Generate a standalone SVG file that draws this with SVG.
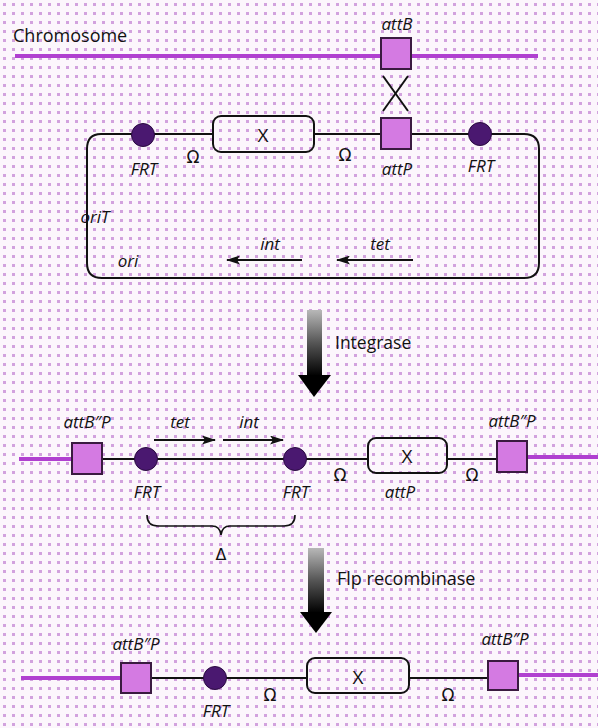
<svg xmlns="http://www.w3.org/2000/svg" width="598" height="728" viewBox="0 0 598 728">
<defs>
<pattern id="dots" width="9" height="9" patternUnits="userSpaceOnUse">
<rect x="3" y="3" width="3" height="3" fill="#d2a2de"/>
</pattern>
<linearGradient id="shaft" x1="0" y1="0" x2="0" y2="1">
<stop offset="0" stop-color="#b8b8b8"/>
<stop offset="0.5" stop-color="#555"/>
<stop offset="1" stop-color="#000"/>
</linearGradient>
<marker id="ah" markerWidth="14" markerHeight="9" refX="13" refY="4.5" orient="auto" markerUnits="userSpaceOnUse">
<path d="M0,0 L14,4.5 L0,9 L3,4.5 Z" fill="#111"/>
</marker>
<style>
.t{font-family:"Open Sans","Liberation Sans",sans-serif;fill:#111}
.lab{font-family:"Open Sans","Liberation Sans",sans-serif;font-style:italic;font-size:17px;fill:#111;text-anchor:middle}
.om{font-family:"DejaVu Sans","Liberation Sans",sans-serif;font-size:17px;fill:#111;text-anchor:middle}
.chr{stroke:#b040d0;stroke-width:4;fill:none}
.dna{stroke:#111;stroke-width:2;fill:none}
.att{fill:#d47ae2;stroke:#3a1a40;stroke-width:2}
.frt{fill:#4a1870;stroke:#2a0a40;stroke-width:1}
.xbox{fill:none;stroke:#111;stroke-width:2}
.gene{stroke:#111;stroke-width:1.8;fill:none;marker-end:url(#ah)}
</style>
</defs>
<rect width="598" height="728" fill="#fcf6fc"/>
<rect width="598" height="728" fill="url(#dots)"/>

<g id="connectors">
<line class="chr" x1="15" y1="56" x2="538" y2="56"/>
<line x1="383" y1="76" x2="408" y2="111" stroke="#111" stroke-width="2"/>
<line x1="408" y1="76" x2="383" y2="111" stroke="#111" stroke-width="2"/>
<path class="dna" d="M213,134 L101,134 Q87,134 87,149 L87,263 Q87,278 102,278 L524,278 Q539,278 539,263 L539,149 Q539,134 524,134 L411,134"/>
<line class="dna" x1="314" y1="134" x2="381" y2="134"/>
<line class="gene" x1="302" y1="260" x2="227" y2="260"/>
<line class="gene" x1="413" y1="260" x2="337" y2="260"/>
<line class="chr" x1="19" y1="459" x2="72" y2="459"/>
<line class="dna" x1="102" y1="459" x2="368" y2="459"/>
<line class="dna" x1="447" y1="459" x2="497" y2="459"/>
<line class="chr" x1="527" y1="457" x2="598" y2="457"/>
<line class="gene" x1="154" y1="440" x2="215" y2="440"/>
<line class="gene" x1="223" y1="440" x2="283" y2="440"/>
<path d="M147,515 Q147,526 158,526 L212,526 Q220,526 221,535 Q222,526 230,526 L284,526 Q295,526 295,515" fill="none" stroke="#111" stroke-width="1.6"/>
<line class="chr" x1="21" y1="678" x2="121" y2="678"/>
<line class="dna" x1="151" y1="678" x2="307" y2="678"/>
<line class="dna" x1="409" y1="678" x2="488" y2="678"/>
<line class="chr" x1="518" y1="675" x2="598" y2="675"/>
<rect x="307" y="310" width="15" height="66" fill="url(#shaft)"/>
<polygon points="298,375 331,375 314,397" fill="#000"/>
<rect x="308" y="548" width="16" height="65" fill="url(#shaft)"/>
<polygon points="300,612 332,612 316,633" fill="#000"/>
</g>

<text class="t" x="13" y="42" font-size="18">Chromosome</text>

<g id="attB">
<rect class="att" x="381" y="38" width="30" height="31"/>
<text class="lab" x="397" y="30">attB</text>
</g>
<g id="attP">
<rect class="att" x="381" y="118" width="30" height="31"/>
<text class="lab" x="397" y="175">attP</text>
</g>
<g id="frt1">
<circle class="frt" cx="143" cy="135" r="11.5"/>
<text class="lab" x="144" y="175">FRT</text>
</g>
<g id="x1">
<rect class="xbox" x="213" y="116" width="101" height="36" rx="8"/>
<text class="t" x="263" y="142" font-size="19" text-anchor="middle">X</text>
</g>
<g id="frt2">
<circle class="frt" cx="480" cy="134" r="11.5"/>
<text class="lab" x="481" y="172">FRT</text>
</g>
<text class="om" x="193" y="163">Ω</text>
<text class="om" x="345" y="161">Ω</text>
<text class="lab" x="95" y="223" text-anchor="start">oriT</text>
<text class="lab" x="128" y="267" text-anchor="start">ori</text>
<text class="lab" x="270" y="250">int</text>
<text class="lab" x="380" y="250">tet</text>
<text class="t" x="335" y="349" font-size="17.5">Integrase</text>

<g id="attBP1">
<rect class="att" x="72" y="443" width="30" height="31"/>
<text class="lab" x="87" y="428">attB″P</text>
</g>
<g id="frt3">
<circle class="frt" cx="146" cy="459" r="11.5"/>
<text class="lab" x="147" y="498">FRT</text>
</g>
<text class="lab" x="180" y="428">tet</text>
<text class="lab" x="249" y="428">int</text>
<g id="frt4">
<circle class="frt" cx="295" cy="459" r="11.5"/>
<text class="lab" x="296" y="498">FRT</text>
</g>
<text class="om" x="340" y="481">Ω</text>
<g id="x2">
<rect class="xbox" x="368" y="438" width="79" height="35" rx="8"/>
<text class="t" x="407" y="463" font-size="19" text-anchor="middle">X</text>
<text class="lab" x="400" y="498">attP</text>
</g>
<text class="om" x="472" y="481">Ω</text>
<g id="attBP2">
<rect class="att" x="497" y="441" width="30" height="31"/>
<text class="lab" x="512" y="427">attB″P</text>
</g>
<text x="221" y="560" font-size="16" text-anchor="middle" font-family="DejaVu Sans, sans-serif" fill="#111">Δ</text>
<text class="t" x="337" y="585" font-size="18">Flp recombinase</text>

<g id="attBP3">
<rect class="att" x="121" y="663" width="30" height="30"/>
<text class="lab" x="136" y="650">attB″P</text>
</g>
<g id="frt5">
<circle class="frt" cx="215" cy="678" r="11.5"/>
<text class="lab" x="216" y="717">FRT</text>
</g>
<text class="om" x="270" y="701">Ω</text>
<g id="x3">
<rect class="xbox" x="307" y="658" width="102" height="35" rx="8"/>
<text class="t" x="358" y="684" font-size="19" text-anchor="middle">X</text>
</g>
<text class="om" x="448" y="701">Ω</text>
<g id="attBP4">
<rect class="att" x="488" y="661" width="30" height="29"/>
<text class="lab" x="505" y="645">attB″P</text>
</g>
</svg>
